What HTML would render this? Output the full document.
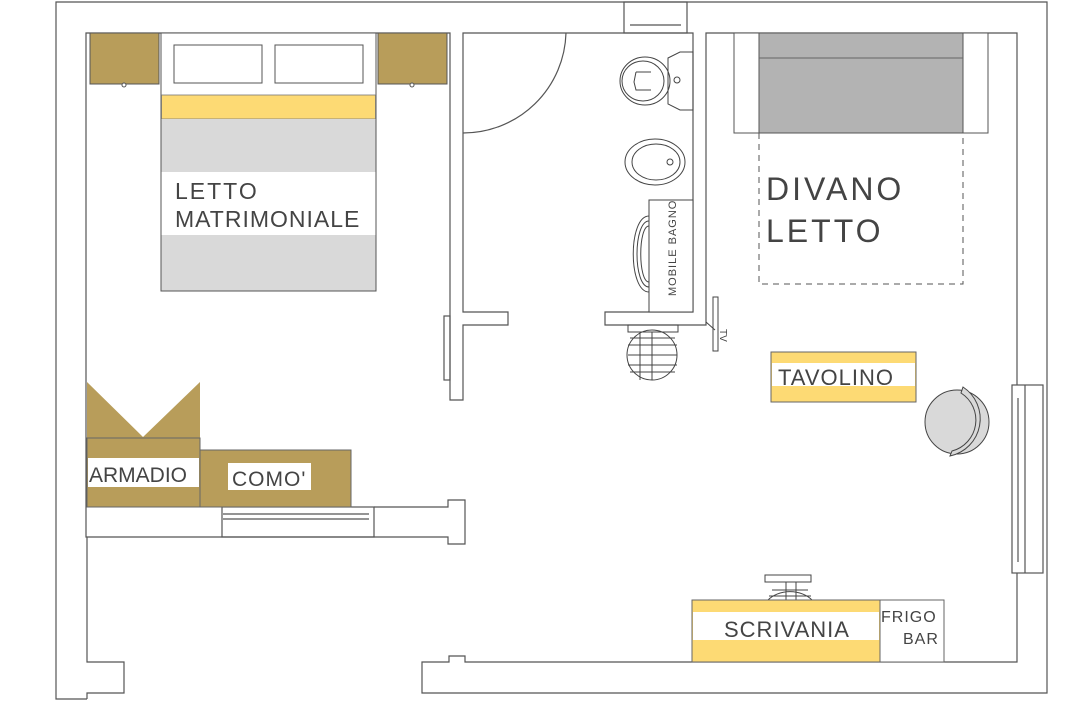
<!DOCTYPE html>
<html><head><meta charset="utf-8"><style>
html,body{margin:0;padding:0;background:#fff;width:1080px;height:720px;overflow:hidden}
svg{display:block}
text{font-family:"Liberation Sans",sans-serif;fill:#444;font-weight:normal}
</style></head><body>
<svg width="1080" height="720" viewBox="0 0 1080 720" xmlns="http://www.w3.org/2000/svg">
<g fill="none" stroke="#555" stroke-width="1.2">
<!-- outer -->
<path d="M87,699 L56,699 L56,2 L1047,2 L1047,693 L422,693 L422,662 L449,662 L449,656 L465,656 L465,662 L1017,662 L1017,573"/>
<path d="M1017,385 L1017,33 L706,33 L706,325 L605,325 L605,312 L693,312 L693,33 L463,33 L463,312 L508,312 L508,325 L463,325 L463,400 L450,400 L450,33 L86,33 L86,537 L448,537 L448,544 L465,544 L465,500 L448,500 L448,507 L374,507"/>
<path d="M87,699 L87,693 L124,693 L124,662 L87,662 L87,537"/>
<rect x="444" y="316" width="6" height="64"/>
<!-- bedroom south window -->
<rect x="222" y="507" width="152" height="30"/>
<line x1="223" y1="514" x2="369" y2="514"/><line x1="223" y1="519" x2="369" y2="519"/>
<!-- top window bath -->
<rect x="624" y="2" width="63" height="31"/>
<line x1="630" y1="25" x2="681" y2="25"/>
<!-- right window -->
<rect x="1012" y="385" width="31" height="188"/>
<line x1="1025" y1="385" x2="1025" y2="573"/>
<line x1="1018" y1="398" x2="1018" y2="562" stroke="#999" stroke-width="2"/>
<!-- door arc -->
<path d="M566,33 A103,103 0 0 1 463,133"/>
</g>
<!-- nightstands -->
<rect x="90" y="33" width="69" height="51" fill="#b89d5a" stroke="#555"/>
<rect x="378" y="33" width="69" height="51" fill="#b89d5a" stroke="#555"/>
<circle cx="124" cy="85" r="2" fill="#fff" stroke="#555"/>
<circle cx="412" cy="85" r="2" fill="#fff" stroke="#555"/>
<!-- bed -->
<rect x="161" y="33" width="215" height="258" fill="#fff" stroke="#555"/>
<rect x="174" y="45" width="88" height="38" fill="#fff" stroke="#555"/>
<rect x="275" y="45" width="88" height="38" fill="#fff" stroke="#555"/>
<rect x="161.5" y="95" width="214" height="24" fill="#fdda74" stroke="#777" stroke-width="0.8"/>
<rect x="161.5" y="119" width="214" height="53" fill="#d9d9d9"/>
<rect x="161.5" y="235" width="214" height="55.5" fill="#d9d9d9"/>
<text x="175" y="199" font-size="23" letter-spacing="2">LETTO</text>
<text x="175" y="227" font-size="23" letter-spacing="1">MATRIMONIALE</text>
<!-- armadio -->
<path d="M87,382 L143,437 L200,382 L200,438 L87,438 Z" fill="#b89d5a"/>
<rect x="87" y="438" width="113" height="69" fill="#b89d5a" stroke="#666"/>
<rect x="88" y="458" width="111" height="29" fill="#fff"/>
<text x="89" y="482" font-size="21">ARMADIO</text>
<rect x="200" y="450" width="151" height="57" fill="#b89d5a" stroke="#666"/>
<rect x="228" y="463" width="83" height="27" fill="#fff"/>
<text x="232" y="486" font-size="21" letter-spacing="1">COMO'</text>
<!-- bathroom fixtures -->
<g fill="none" stroke="#444" stroke-width="1">
<ellipse cx="645" cy="81" rx="25" ry="24"/><ellipse cx="643" cy="81" rx="21" ry="20"/>
<path d="M668,58 L680,52 L693,52 L693,110 L680,110 L668,104 Z"/>
<circle cx="677" cy="80" r="3"/>
<path d="M636,72 L651,72 M636,72 L634,82 L636,90 L651,90"/>
<ellipse cx="655" cy="162" rx="30" ry="23"/><ellipse cx="656" cy="162" rx="24" ry="18"/>
<circle cx="670" cy="162" r="3"/>
<path d="M649,216 C628,216 628,292 649,292 M649,221 C633,221 633,287 649,287 M649,226 C638,226 638,282 649,282"/>
<rect x="649" y="200" width="44" height="112" fill="#fff"/>
<rect x="628" y="325" width="50" height="7"/>
<circle cx="652" cy="355" r="25"/>
<path d="M640,332 V380 M652,332 V380 M628,345 H677 M628,355 H677 M628,365 H677 M630,338 H675 M630,372 H675"/>
<rect x="713" y="297" width="5" height="54"/>
<line x1="706" y1="322" x2="715" y2="330"/>
<circle cx="957" cy="422" r="32" fill="#d9d9d9"/>
<path d="M963,387 A38,38 0 0 1 950,456 L952,451 A32,32 0 0 0 961,393 Z" fill="#d9d9d9"/>
<rect x="765" y="575" width="46" height="7"/>
<path d="M768,600 A28,22 0 0 1 812,600 M772,590 H808 M769,596 H811 M786,582 V600 M796,582 V600"/>
</g>
<text transform="translate(676,296) rotate(-90)" font-size="11" letter-spacing="1">MOBILE BAGNO</text>
<text transform="translate(720,329) rotate(90)" font-size="10">TV</text>
<!-- divano -->
<rect x="734" y="33" width="254" height="100" fill="#fff" stroke="#555"/>
<rect x="759" y="33" width="204" height="100" fill="#b3b3b3" stroke="#555"/>
<line x1="759" y1="58" x2="963" y2="58" stroke="#666"/>
<rect x="759" y="133" width="204" height="151" fill="none" stroke="#555" stroke-dasharray="6,5"/>
<text x="766" y="200" font-size="32" letter-spacing="3" fill="#555">DIVANO</text>
<text x="766" y="242" font-size="32" letter-spacing="3" fill="#555">LETTO</text>
<!-- tavolino -->
<rect x="771" y="352" width="145" height="50" fill="#fdda74" stroke="#666"/>
<rect x="772" y="363" width="143" height="23" fill="#fff"/>
<text x="778" y="385" font-size="22" letter-spacing="1">TAVOLINO</text>
<!-- scrivania -->
<rect x="692" y="600" width="188" height="62" fill="#fdda74" stroke="#666"/>
<rect x="693" y="612" width="186" height="28" fill="#fff"/>
<text x="724" y="637" font-size="22" letter-spacing="1">SCRIVANIA</text>
<rect x="880" y="600" width="64" height="62" fill="#fff" stroke="#666"/>
<text x="881" y="622" font-size="16" letter-spacing="1">FRIGO</text>
<text x="903" y="644" font-size="16" letter-spacing="1">BAR</text>
</svg>
</body></html>
